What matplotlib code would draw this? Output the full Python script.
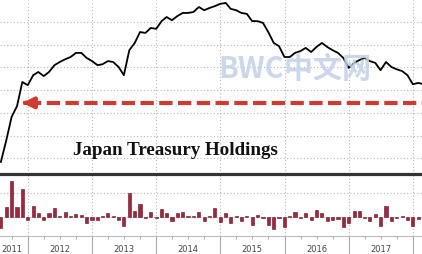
import matplotlib
matplotlib.use("Agg")
import matplotlib.pyplot as plt
import matplotlib.dates as mdates
import pandas as pd

# Japan holdings of US Treasuries ($bn), month ends from Jul 2011
holdings = [892, 940, 991, 1015, 1068, 1061, 1083, 1090, 1081, 1090,
            1105, 1112, 1118, 1123, 1132, 1132, 1121, 1114, 1105, 1107,
            1114, 1112, 1101, 1083, 1138, 1154, 1178, 1176, 1187, 1185,
            1202, 1211, 1204, 1213, 1220, 1220, 1222, 1233, 1226, 1231,
            1235, 1240, 1242, 1229, 1226, 1220, 1218, 1202, 1202, 1198,
            1178, 1154, 1147, 1123, 1123, 1132, 1136, 1143, 1134, 1145,
            1154, 1145, 1138, 1132, 1121, 1099, 1110, 1116, 1121, 1114,
            1110, 1094, 1112, 1101, 1096, 1092, 1083, 1063, 1066, 1063]

# monthly change bars ($bn)
changes = [-24, 21, 74, 21, 58, -7, 22, 8, -7, 7,
           19, 1, 10, 1, 6, 3, -14, -6, -7, 2,
           7, 1, -7, -19, 50, 12, 27, -3, 10, -3,
           17, 8, -10, 8, 9, 0.5, 0.5, 10, -8, 1,
           19, -11, 8, -13, 1, -8, 1, -17, 3, -3,
           -17, -26, -2, -21, 1, 10, -2, 7, -7, 14,
           7, -9, -6, -4, -21, -14, 12, 12, -2, -10,
           5, -19, 22, -10, -2, 1, -7, -19, -4]

start = "2011-07-31"
marker_level = 1022

line_dates = pd.date_range(start, periods=len(holdings), freq="ME")
bar_dates = pd.date_range(start, periods=len(changes), freq="ME")

fig = plt.figure(figsize=(4.22, 2.54), dpi=100)
ax = fig.add_axes([0, 0.3169, 1, 0.6831])
axb = fig.add_axes([0, 0.0709, 1, 0.246], sharex=ax)

x0, x1 = pd.Timestamp("2011-07-26"), pd.Timestamp("2018-02-21")

# --- top panel
ax.plot(line_dates, holdings, color="black", lw=1.3, zorder=3)
ax.set_ylim(866.5, 1248.5)
ax.set_yticks([900, 950, 1000, 1050, 1100, 1150, 1200])
ax.set_xlim(x0, x1)
for s in ax.spines.values():
    s.set_visible(False)
ax.tick_params(which="both", left=False, labelleft=False,
               bottom=False, labelbottom=False)
ax.grid(True, color="#b8b8b8", linestyle=(0, (1, 2)), lw=0.8)

# dashed red arrow back to the 2011 level
ax.plot([pd.Timestamp("2012-01-01"), x1], [marker_level, marker_level],
        color="#cf3a33", lw=3, dashes=(3.2, 1.3), zorder=2)
ax.annotate("", xy=(pd.Timestamp("2011-11-14"), marker_level),
            xytext=(pd.Timestamp("2012-01-05"), marker_level),
            arrowprops=dict(arrowstyle="-|>", color="#cf3a33", lw=3,
                            mutation_scale=16))

fig.text(73 / 422, (254 - 155) / 254, "Japan Treasury Holdings",
         family="Liberation Serif", weight="bold", fontsize=13.7,
         color="#111111", va="baseline", ha="left")

fig.text(295 / 422, (254 - 69) / 254, "BWC中文网",
         family=["Noto Sans CJK SC", "DejaVu Sans"], weight="bold",
         fontsize=21, color="#c3d2e6", alpha=0.85, ha="center", va="center",
         zorder=10)

# --- bottom panel
axb.bar(bar_dates, changes, width=18, color="#a0283c",
        edgecolor="#5e1020", lw=0.4, zorder=3)
axb.set_ylim(-40.2, 90)
axb.set_yticks([0, 50])
axb.tick_params(left=False, labelleft=False)
axb.grid(True, color="#b8b8b8", linestyle=(0, (1, 2)), lw=0.8)
for side in ["left", "right"]:
    axb.spines[side].set_visible(False)
axb.spines["top"].set_color("#333333")
axb.spines["top"].set_linewidth(2.3)
axb.spines["bottom"].set_color("#bbbbbb")
axb.spines["bottom"].set_linewidth(0.8)

# year separators as long major ticks, quarter ticks carry the labels
axb.xaxis.set_major_locator(mdates.YearLocator())
axb.xaxis.set_major_formatter(plt.NullFormatter())
quarters = pd.date_range("2011-10-01", "2017-10-01", freq="QS")
quarters = [q for q in quarters if q.month != 1]
qlabels = []
for q in quarters:
    if (q.year == 2011 and q.month == 10) or (q.year > 2011 and q.month == 7):
        qlabels.append(str(q.year))
    else:
        qlabels.append("")
axb.xaxis.set_minor_locator(plt.FixedLocator(mdates.date2num(quarters)))
axb.xaxis.set_minor_formatter(plt.FixedFormatter(qlabels))
axb.tick_params(axis="x", which="major", length=13, width=0.8,
                color="#aaaaaa", direction="out")
axb.tick_params(axis="x", which="minor", length=2, width=0.6,
                color="#999999", pad=4.5, labelsize=6, labelcolor="#444444")
for lab in axb.get_xticklabels(minor=True):
    lab.set_family(["Liberation Sans Narrow", "DejaVu Sans"])

fig.savefig("out.png", dpi=100)
